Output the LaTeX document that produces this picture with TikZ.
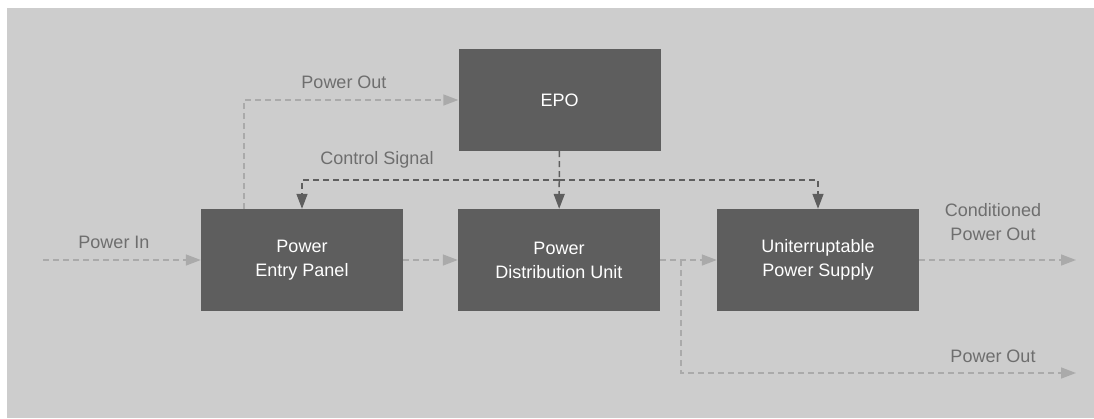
\documentclass[tikz,border=0pt]{standalone}
\usepackage{fontspec}
\setmainfont{Liberation Sans}
\usetikzlibrary{arrows.meta}

\definecolor{bggray}{HTML}{CDCDCD}
\definecolor{boxgray}{HTML}{5E5E5E}
\definecolor{linegray}{HTML}{AAAAAA}
\definecolor{labelgray}{HTML}{6E6E6E}

\begin{document}
\begin{tikzpicture}[x=1pt, y=-1pt,
  font=\fontsize{18}{24}\selectfont,
  unit/.style={fill=boxgray, text=white, align=center, inner sep=0pt,
    minimum width=202pt, minimum height=102pt},
  label/.style={text=labelgray, align=center},
  powerline/.style={linegray, line width=1.5pt, dash pattern=on 6pt off 4pt,
    -{Triangle[length=15pt, width=11pt]}},
  ctrlline/.style={boxgray, line width=1.5pt, dash pattern=on 6pt off 4pt,
    -{Triangle[length=15pt, width=11pt]}}]

\useasboundingbox (0,0) rectangle (1094,418);
\fill[bggray] (7,8) rectangle (1094,418);

% blocks
\node[unit] (epo) at (559.5,100) {EPO};
\node[unit] (pep) at (302,260) {Power\\Entry Panel};
\node[unit] (pdu) at (559,260) {Power\\Distribution Unit};
\node[unit] (ups) at (818,260) {Uniterruptable\\Power Supply};

% loose ends
\coordinate (in) at (43,260);
\coordinate (cout) at (1076,260);
\coordinate (split) at (681,260);
\coordinate (pout) at (1076,373);
\coordinate (tap) at (244,209);
\coordinate (bus) at (559,180);

% power flow
\draw[powerline] (in) -- (pep);
\draw[powerline] (pep) -- (pdu);
\draw[powerline] (pdu) -- (ups);
\draw[powerline] (ups) -- (cout);
\draw[powerline] (split) |- (pout);
\draw[powerline] (tap) |- (epo.west);

% control signal
\draw[ctrlline] (epo) -- (pdu);
\draw[ctrlline] (bus) -| (pep.north);
\draw[ctrlline] (bus) -| (ups.north);

% labels
\node[label] (lin) at (114,242) {Power In};
\node[label] (ltop) at (344,82) {Power Out};
\node[label] (lctrl) at (377,160) {Control Signal};
\node[label] (lcond) at (993,222) {Conditioned\\Power Out};
\node[label] (lbot) at (993,356) {Power Out};

\end{tikzpicture}
\end{document}
